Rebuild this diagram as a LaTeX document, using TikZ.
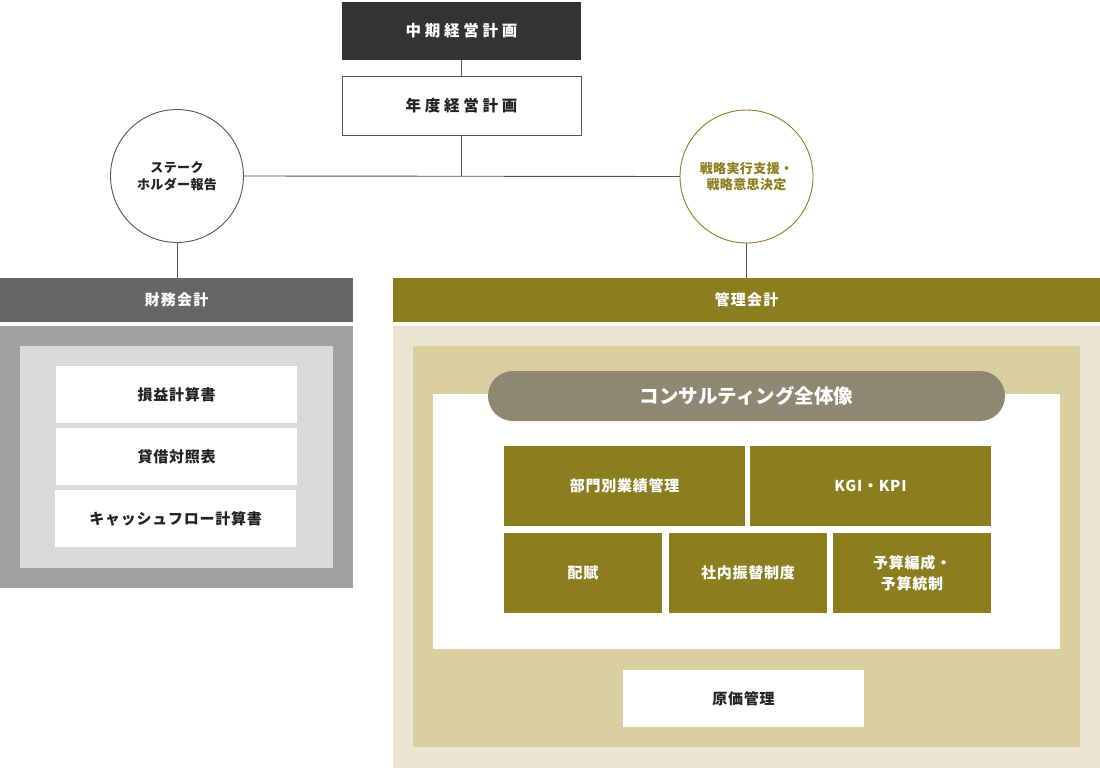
\documentclass[tikz,border=0pt]{standalone}
\usepackage{fontspec}
\setmainfont{Noto Sans CJK JP}
\newfontfamily\jpwide{Noto Sans CJK JP}[LetterSpace=24]
\newfontfamily\jpsp{Noto Sans CJK JP}[LetterSpace=5]
\newfontfamily\jpbar{Noto Sans CJK JP}[LetterSpace=8]
\newfontfamily\jpcirc{Noto Sans CJK JP}[LetterSpace=3]
\definecolor{darkbox}{HTML}{333333}
\definecolor{linegray}{HTML}{555555}
\definecolor{fabar}{HTML}{666666}
\definecolor{faouter}{HTML}{A0A0A0}
\definecolor{fainner}{HTML}{D9D9D9}
\definecolor{olive}{HTML}{8C7D1E}
\definecolor{beigeout}{HTML}{EAE4D2}
\definecolor{beigein}{HTML}{DACFA1}
\definecolor{pillc}{HTML}{8E8872}
\definecolor{txt}{HTML}{222222}
\begin{document}
\begin{tikzpicture}[x=1pt,y=-1pt,
  every node/.style={inner sep=0pt, outer sep=0pt},
  plate/.style={rectangle, draw=none},
  topbox/.style={rectangle, fill=darkbox, text=white, font=\jpwide\bfseries\fontsize{15.5}{18}\selectfont, minimum width=239, minimum height=58},
  yearbox/.style={rectangle, fill=white, draw=linegray, line width=0.8pt, text=txt, font=\jpwide\bfseries\fontsize{15.5}{18}\selectfont, minimum width=239, minimum height=59},
  roundel/.style={circle, fill=white, line width=0.9pt, align=center, font=\jpcirc\bfseries\fontsize{13}{16.5}\selectfont, minimum size=133},
  bar/.style={rectangle, text=white, font=\jpbar\bfseries\fontsize{15}{17}\selectfont},
  wbox/.style={rectangle, fill=white, text=txt, font=\jpsp\bfseries\fontsize{15}{17}\selectfont, minimum width=241, minimum height=57},
  obox/.style={rectangle, fill=olive, text=white, align=center, font=\jpsp\bfseries\fontsize{15}{21}\selectfont, minimum height=80},
  conn/.style={draw=linegray, line width=0.9pt}
]
\useasboundingbox (0,0) rectangle (1100,768);

% top boxes
\node[topbox] (mid) at (461.5,31) {中期経営計画};
\node[yearbox] (year) at (461.5,105.5) {年度経営計画};

% circles
\node[roundel, draw=linegray, text=txt] (stake) at (177,176) {ステーク\\ホルダー報告};
\node[roundel, draw=olive, text=olive] (strat) at (746.5,176.5) {戦略実行支援・\\戦略意思決定};

% financial accounting
\node[bar, fill=fabar, minimum width=353, minimum height=44] (fa) at (176.5,300) {財務会計};
\node[plate, fill=faouter, minimum width=353, minimum height=262] (faout) at (176.5,457) {};
\node[plate, fill=fainner, minimum width=313, minimum height=222] (fain) at (176.5,457) {};
\node[wbox] (pl) at (176.5,394.5) {損益計算書};
\node[wbox] (bs) at (176.5,456.5) {貸借対照表};
\node[wbox] (cf) at (175.5,518.5) {キャッシュフロー計算書};

% management accounting
\node[bar, fill=olive, minimum width=707, minimum height=44] (ma) at (746.5,300) {管理会計};
\node[plate, fill=beigeout, minimum width=707, minimum height=442] (maout) at (746.5,547) {};
\node[plate, fill=beigein, minimum width=667, minimum height=401] (main) at (746.5,546.5) {};
\node[plate, fill=white, minimum width=627, minimum height=255] (panel) at (746.5,521.5) {};
\node[rectangle, rounded corners=25pt, fill=pillc, text=white, font=\bfseries\fontsize{19.5}{22}\selectfont, minimum width=517, minimum height=50] (pill) at (746.5,396) {コンサルティング全体像};

\node[obox, minimum width=241] (dept) at (624.5,486) {部門別業績管理};
\node[obox, minimum width=241] (kpi) at (870.5,486) {KGI・KPI};
\node[obox, minimum width=158] (alloc) at (583,573) {配賦};
\node[obox, minimum width=158] (transfer) at (748,573) {社内振替制度};
\node[obox, minimum width=158] (budget) at (912,573) {予算編成・\\予算統制};
\node[wbox] (cost) at (743.5,698.5) {原価管理};

% connectors
\draw[conn] (mid.south) -- (year.north);
\draw[conn] (year.south) -- (year.south |- stake.east);
\draw[conn] (stake.east) -- (strat.west);
\draw[conn] (stake.south) -- (stake.south |- fa.north);
\draw[conn] (strat.south) -- (strat.south |- ma.north);
\end{tikzpicture}
\end{document}
